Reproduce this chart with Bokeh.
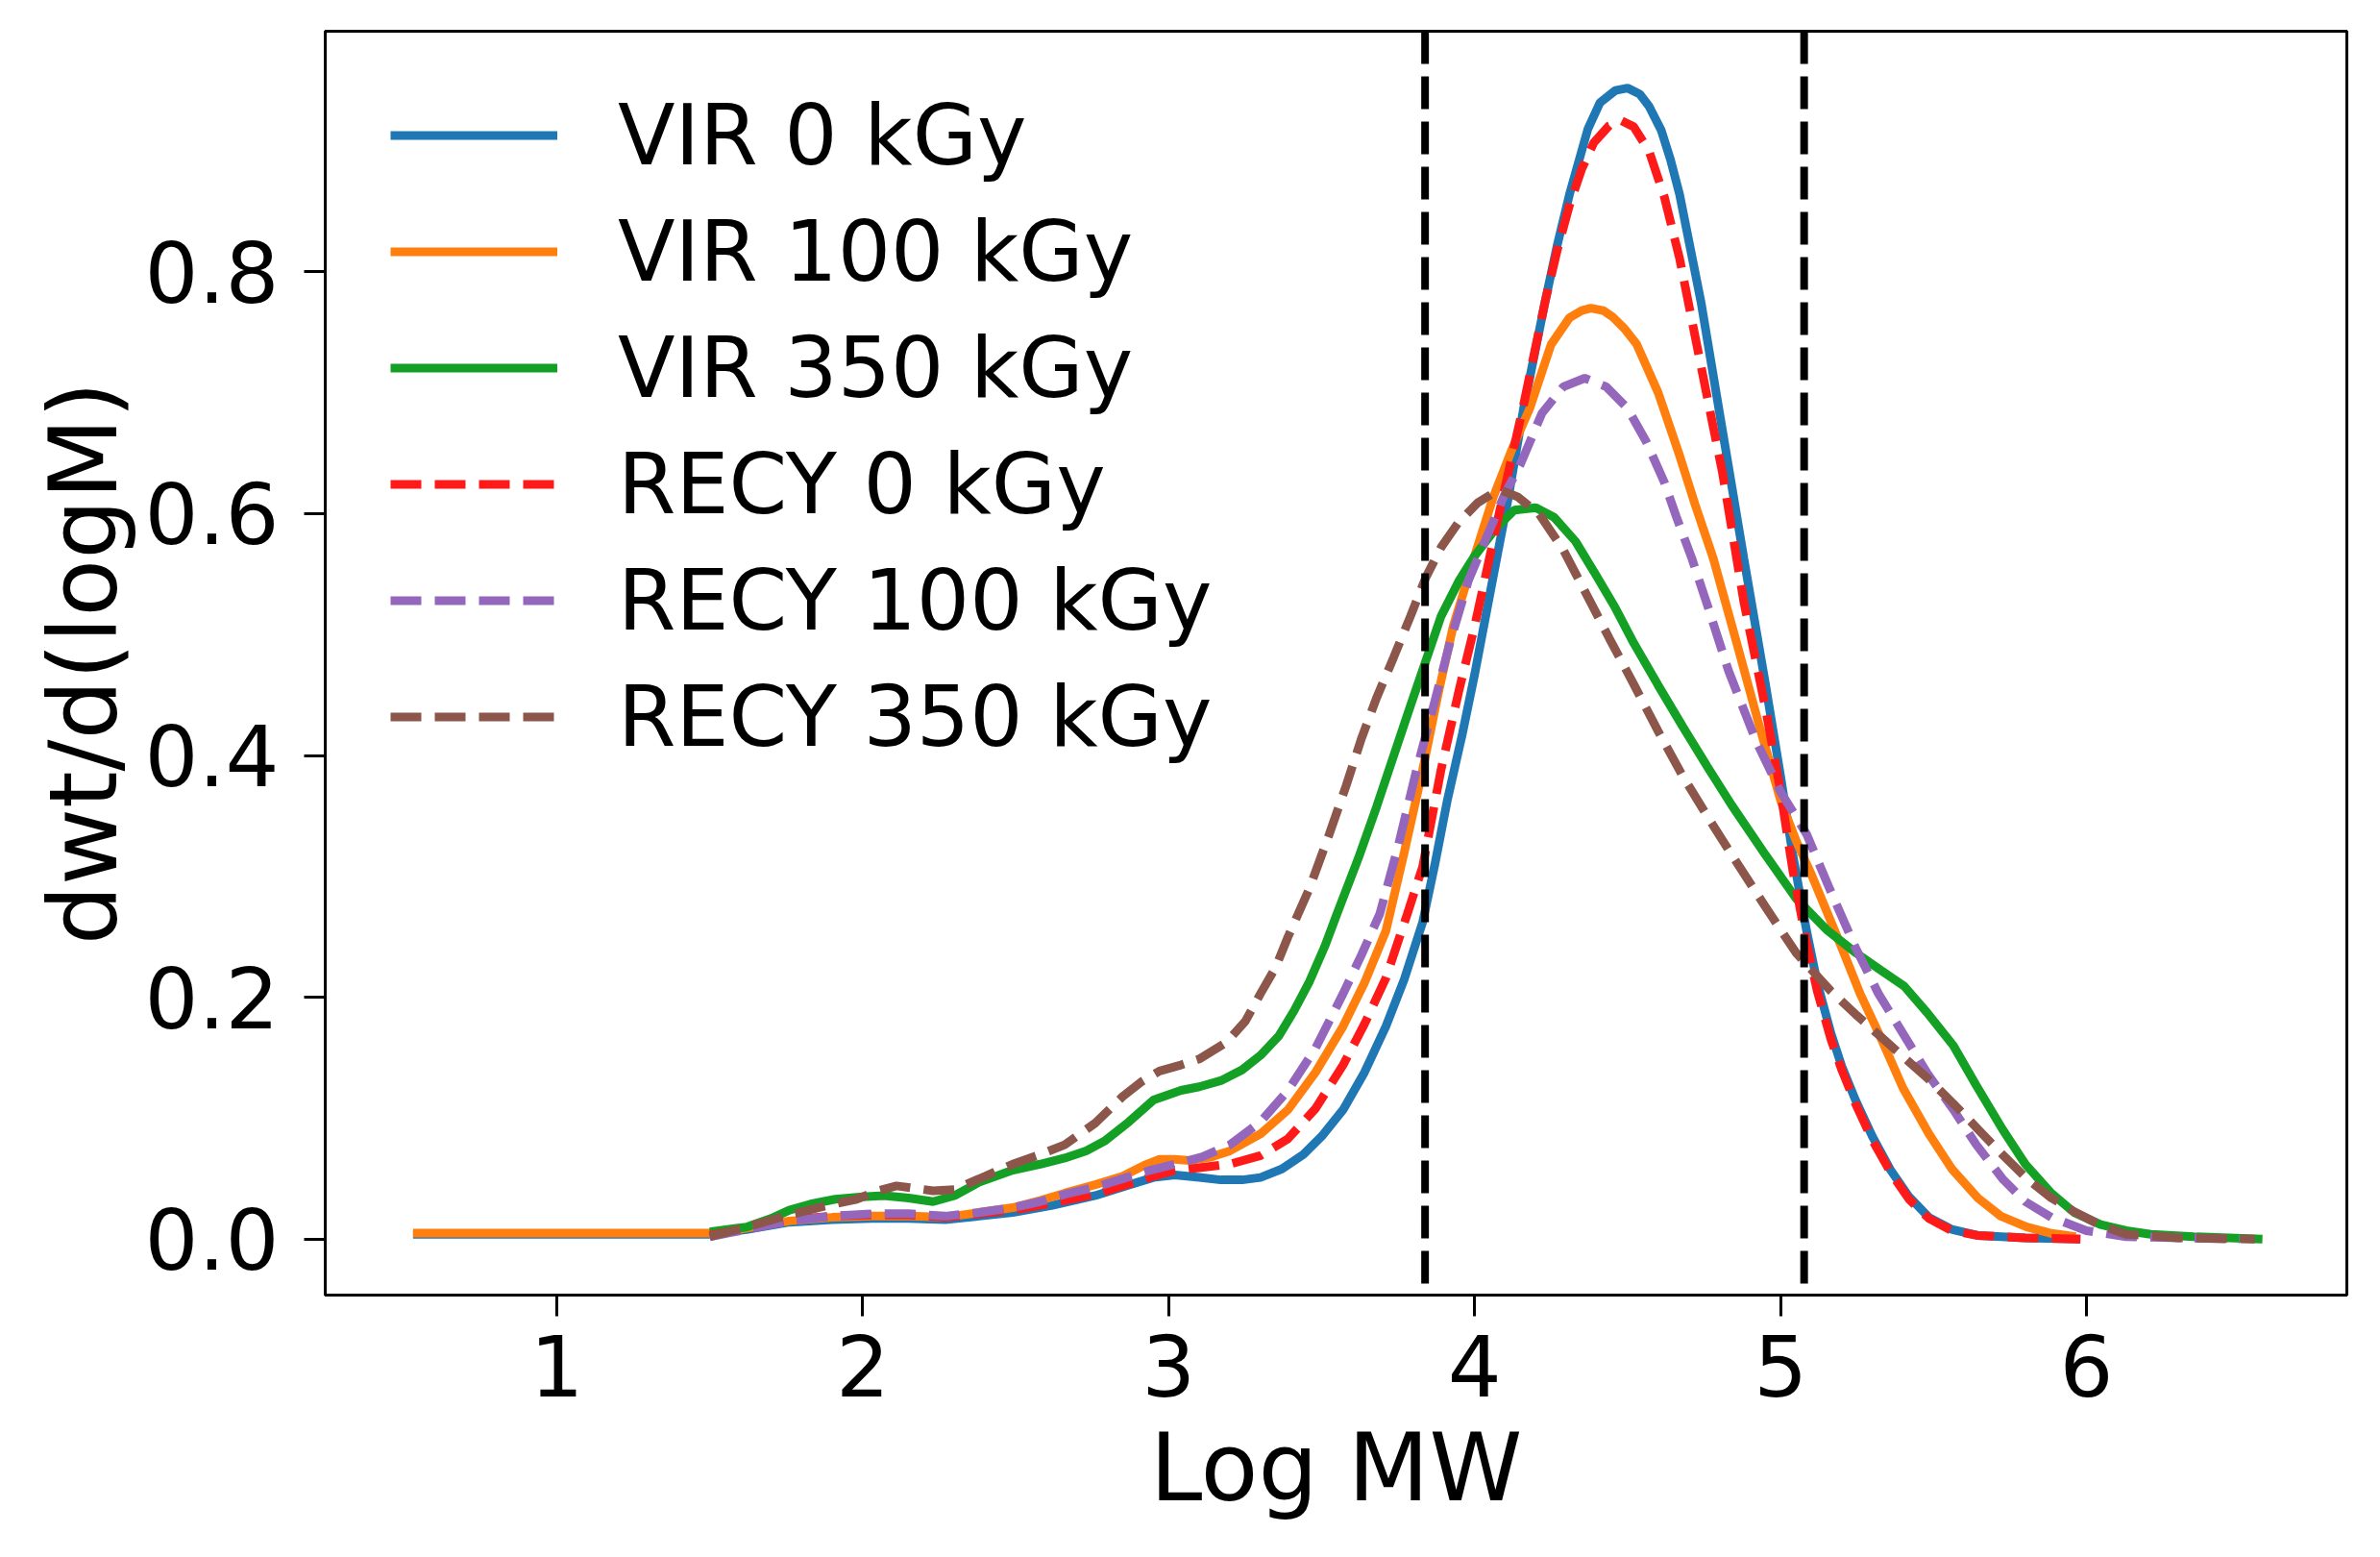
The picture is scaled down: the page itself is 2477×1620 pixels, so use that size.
from bokeh.plotting import figure
from bokeh.models import Range1d, Span, Legend, LegendItem, FixedTicker, NumeralTickFormatter
from bokeh.embed import file_html
from bokeh.resources import INLINE

# values
vir0_x = [0.53, 1.0, 1.5, 1.62, 1.76, 1.90, 2.03, 2.15, 2.27, 2.38, 2.49, 2.62, 2.76, 2.86, 2.95,
          3.02, 3.10, 3.17, 3.24, 3.30, 3.37, 3.44, 3.50, 3.57, 3.64, 3.71, 3.77, 3.83, 3.87, 3.91,
          3.96, 4.00, 4.06, 4.11, 4.16, 4.23, 4.27, 4.31, 4.37, 4.41, 4.46, 4.50, 4.54, 4.57, 4.61,
          4.64, 4.67, 4.74, 4.81, 4.88, 4.95, 5.00, 5.04, 5.085, 5.12, 5.165, 5.20, 5.245, 5.30,
          5.36, 5.42, 5.485, 5.56, 5.645, 5.80, 5.98]
vir0_y = [0.004, 0.004, 0.004, 0.008, 0.014, 0.016, 0.017, 0.017, 0.016, 0.019, 0.022, 0.028, 0.036,
          0.044, 0.051, 0.053, 0.051, 0.049, 0.049, 0.051, 0.058, 0.070, 0.085, 0.107, 0.138, 0.176,
          0.215, 0.262, 0.310, 0.362, 0.418, 0.467, 0.547, 0.613, 0.687, 0.775, 0.822, 0.864, 0.918,
          0.940, 0.950, 0.952, 0.947, 0.937, 0.917, 0.893, 0.864, 0.775, 0.669, 0.563, 0.460, 0.383,
          0.318, 0.255, 0.212, 0.170, 0.143, 0.115, 0.085, 0.057, 0.035, 0.018, 0.008, 0.003, 0.001,
          0.000]

vir100_x = [0.53, 1.0, 1.5, 1.62, 1.76, 1.90, 2.03, 2.15, 2.27, 2.38, 2.49, 2.58, 2.66, 2.76, 2.85,
            2.92, 2.97, 3.02, 3.07, 3.14, 3.20, 3.30, 3.39, 3.48, 3.57, 3.64, 3.71, 3.77, 3.83, 3.88,
            3.93, 4.00, 4.06, 4.12, 4.18, 4.25, 4.31, 4.35, 4.38, 4.42, 4.45, 4.49, 4.53, 4.60, 4.67,
            4.72, 4.78, 4.86, 4.93, 5.00, 5.05, 5.10, 5.20, 5.26, 5.325, 5.40, 5.485, 5.56, 5.645,
            5.72, 5.805, 5.88, 5.965]
vir100_y = [0.005, 0.005, 0.005, 0.009, 0.015, 0.018, 0.019, 0.019, 0.018, 0.022, 0.026, 0.032, 0.038,
            0.045, 0.052, 0.061, 0.066, 0.066, 0.065, 0.068, 0.073, 0.087, 0.107, 0.138, 0.176, 0.212,
            0.255, 0.320, 0.388, 0.450, 0.507, 0.565, 0.613, 0.652, 0.687, 0.740, 0.762, 0.768, 0.770,
            0.768, 0.763, 0.753, 0.740, 0.700, 0.648, 0.608, 0.563, 0.490, 0.425, 0.363, 0.330, 0.302,
            0.241, 0.203, 0.168, 0.125, 0.087, 0.058, 0.034, 0.019, 0.010, 0.005, 0.002]

vir350_x = [1.5, 1.62, 1.70, 1.76, 1.83, 1.91, 2.00, 2.07, 2.15, 2.23, 2.30, 2.38, 2.49, 2.58, 2.66,
            2.73, 2.79, 2.87, 2.95, 3.04, 3.10, 3.17, 3.24, 3.30, 3.36, 3.41, 3.46, 3.51, 3.55, 3.62,
            3.68, 3.79, 3.89, 3.95, 4.00, 4.07, 4.13, 4.20, 4.26, 4.33, 4.39, 4.46, 4.52, 4.60, 4.68,
            4.76, 4.84, 4.95, 5.05, 5.15, 5.245, 5.33, 5.405, 5.48, 5.565, 5.64, 5.725, 5.80, 5.885,
            5.96, 6.046, 6.13, 6.21, 6.35, 6.575]
vir350_y = [0.006, 0.010, 0.017, 0.024, 0.029, 0.033, 0.035, 0.036, 0.034, 0.031, 0.036, 0.047, 0.057,
            0.062, 0.067, 0.073, 0.081, 0.097, 0.115, 0.123, 0.126, 0.131, 0.140, 0.152, 0.168, 0.189,
            0.213, 0.242, 0.269, 0.315, 0.358, 0.441, 0.515, 0.545, 0.565, 0.588, 0.603, 0.605, 0.597,
            0.577, 0.552, 0.522, 0.493, 0.458, 0.424, 0.391, 0.359, 0.318, 0.282, 0.256, 0.237, 0.222,
            0.209, 0.187, 0.160, 0.127, 0.091, 0.062, 0.038, 0.022, 0.012, 0.007, 0.004, 0.002, 0.000]

recy0_x = [1.5, 1.62, 1.76, 1.90, 2.03, 2.15, 2.27, 2.38, 2.49, 2.62, 2.76, 2.86, 2.95, 3.02, 3.10,
           3.20, 3.30, 3.39, 3.48, 3.57, 3.64, 3.71, 3.78, 3.83, 3.89, 3.95, 4.00, 4.08, 4.16, 4.23,
           4.27, 4.31, 4.35, 4.39, 4.44, 4.48, 4.52, 4.57, 4.62, 4.67, 4.74, 4.81, 4.88, 4.95, 5.00,
           5.04, 5.085, 5.12, 5.165, 5.20, 5.245, 5.30, 5.36, 5.42, 5.485, 5.56, 5.645, 5.80, 5.98]
recy0_y = [0.003, 0.009, 0.016, 0.019, 0.020, 0.020, 0.018, 0.021, 0.024, 0.030, 0.037, 0.045, 0.052,
           0.057, 0.059, 0.062, 0.069, 0.083, 0.108, 0.144, 0.178, 0.216, 0.269, 0.308, 0.388, 0.455,
           0.507, 0.600, 0.690, 0.775, 0.818, 0.855, 0.885, 0.907, 0.921, 0.925, 0.920, 0.900, 0.862,
           0.811, 0.722, 0.634, 0.527, 0.440, 0.370, 0.305, 0.245, 0.205, 0.165, 0.140, 0.112, 0.082,
           0.055, 0.033, 0.017, 0.007, 0.003, 0.001, 0.000]

recy100_x = [1.5, 1.62, 1.76, 1.90, 2.03, 2.15, 2.27, 2.38, 2.49, 2.58, 2.66, 2.76, 2.85, 2.94, 3.02,
             3.11, 3.20, 3.30, 3.39, 3.48, 3.57, 3.63, 3.69, 3.75, 3.81, 3.87, 3.92, 3.98, 4.05, 4.10,
             4.15, 4.22, 4.29, 4.36, 4.43, 4.50, 4.56, 4.62, 4.66, 4.71, 4.76, 4.83, 4.92, 5.00, 5.085,
             5.16, 5.245, 5.32, 5.405, 5.48, 5.565, 5.64, 5.725, 5.80, 5.885, 6.00, 6.13, 6.5]
recy100_y = [0.002, 0.008, 0.015, 0.019, 0.021, 0.021, 0.019, 0.022, 0.026, 0.031, 0.037, 0.043, 0.050,
             0.057, 0.062, 0.068, 0.078, 0.097, 0.123, 0.158, 0.203, 0.235, 0.269, 0.325, 0.388, 0.445,
             0.494, 0.545, 0.587, 0.617, 0.641, 0.683, 0.705, 0.712, 0.705, 0.687, 0.660, 0.626, 0.597,
             0.563, 0.525, 0.470, 0.412, 0.370, 0.335, 0.290, 0.241, 0.203, 0.168, 0.137, 0.107, 0.078,
             0.050, 0.031, 0.018, 0.007, 0.002, 0.000]

recy350_x = [1.5, 1.62, 1.76, 1.87, 1.98, 2.05, 2.11, 2.17, 2.23, 2.30, 2.40, 2.49, 2.58, 2.66, 2.76,
             2.85, 2.91, 2.97, 3.04, 3.10, 3.19, 3.25, 3.30, 3.35, 3.39, 3.46, 3.525, 3.58, 3.63, 3.68,
             3.735, 3.79, 3.84, 3.89, 3.945, 4.01, 4.08, 4.14, 4.21, 4.29, 4.364, 4.44, 4.52, 4.60,
             4.68, 4.76, 4.84, 4.95, 5.05, 5.165, 5.245, 5.325, 5.40, 5.485, 5.565, 5.645, 5.725,
             5.805, 5.885, 5.965, 6.05, 6.13, 6.30, 6.55]
recy350_y = [0.002, 0.010, 0.020, 0.027, 0.033, 0.040, 0.044, 0.042, 0.040, 0.041, 0.052, 0.062, 0.070,
             0.078, 0.096, 0.118, 0.130, 0.139, 0.144, 0.149, 0.163, 0.180, 0.203, 0.225, 0.250, 0.290,
             0.335, 0.375, 0.414, 0.448, 0.481, 0.515, 0.547, 0.572, 0.592, 0.609, 0.620, 0.614, 0.600,
             0.570, 0.534, 0.497, 0.459, 0.420, 0.383, 0.350, 0.318, 0.275, 0.237, 0.205, 0.186, 0.168,
             0.151, 0.132, 0.112, 0.091, 0.070, 0.050, 0.034, 0.022, 0.011, 0.004, 0.001, 0.000]

cut_lines = [3.838, 5.077]

series = [
    ("VIR 0 kGy", vir0_x, vir0_y, "#1f77b4", "solid"),
    ("VIR 100 kGy", vir100_x, vir100_y, "#ff7f0e", "solid"),
    ("VIR 350 kGy", vir350_x, vir350_y, "#14a024", "solid"),
    ("RECY 0 kGy", recy0_x, recy0_y, "#ff1a1a", "32 14"),
    ("RECY 100 kGy", recy100_x, recy100_y, "#9467bd", "32 14"),
    ("RECY 350 kGy", recy350_x, recy350_y, "#8c564b", "32 14"),
]

FONT = "DejaVu Sans"

p = figure(width=2461, height=1600, output_backend="svg", toolbar_location=None,
           x_range=Range1d(0.243, 6.851), y_range=Range1d(-0.0463, 0.999),
           min_border_left=338, min_border_right=19, min_border_top=32, min_border_bottom=253)
p.grid.visible = False
p.outline_line_color = "black"
p.outline_line_width = 3

items = []
for name, xs, ys, color, dash in series:
    r = p.line(xs, ys, line_color=color, line_width=9, line_dash=dash)
    items.append(LegendItem(label=name, renderers=[r]))

for xc in cut_lines:
    p.add_layout(Span(location=xc, dimension="height", line_color="black",
                      line_width=8, line_dash="34 13"))

for ax in (p.xaxis[0], p.yaxis[0]):
    ax.axis_line_width = 3
    ax.major_tick_line_width = 3
    ax.major_tick_out = 22
    ax.major_tick_in = 0
    ax.minor_tick_line_color = None
    ax.major_label_text_font = FONT
    ax.major_label_text_font_size = "88px"
    ax.major_label_text_color = "black"
    ax.axis_label_text_font = FONT
    ax.axis_label_text_font_size = "98px"
    ax.axis_label_text_font_style = "normal"
    ax.axis_label_text_color = "black"

p.xaxis.ticker = FixedTicker(ticks=[1, 2, 3, 4, 5, 6])
p.yaxis.ticker = FixedTicker(ticks=[0.0, 0.2, 0.4, 0.6, 0.8])
p.yaxis.formatter = NumeralTickFormatter(format="0.0")
p.xaxis.axis_label = "Log MW"
p.yaxis.axis_label = "dwt/d(logM)"
p.xaxis.major_label_standoff = 19
p.yaxis.major_label_standoff = 26
p.xaxis.axis_label_standoff = 14
p.yaxis.axis_label_standoff = 4

legend = Legend(items=items, location=(68, 541), padding=0, margin=0, spacing=0,
                glyph_width=174, glyph_height=121, label_height=121, label_standoff=63,
                label_text_font=FONT, label_text_font_size="87px", label_text_color="black",
                border_line_color=None, background_fill_alpha=0)
p.add_layout(legend, "center")

open("out.html", "w").write(file_html(p, INLINE))
